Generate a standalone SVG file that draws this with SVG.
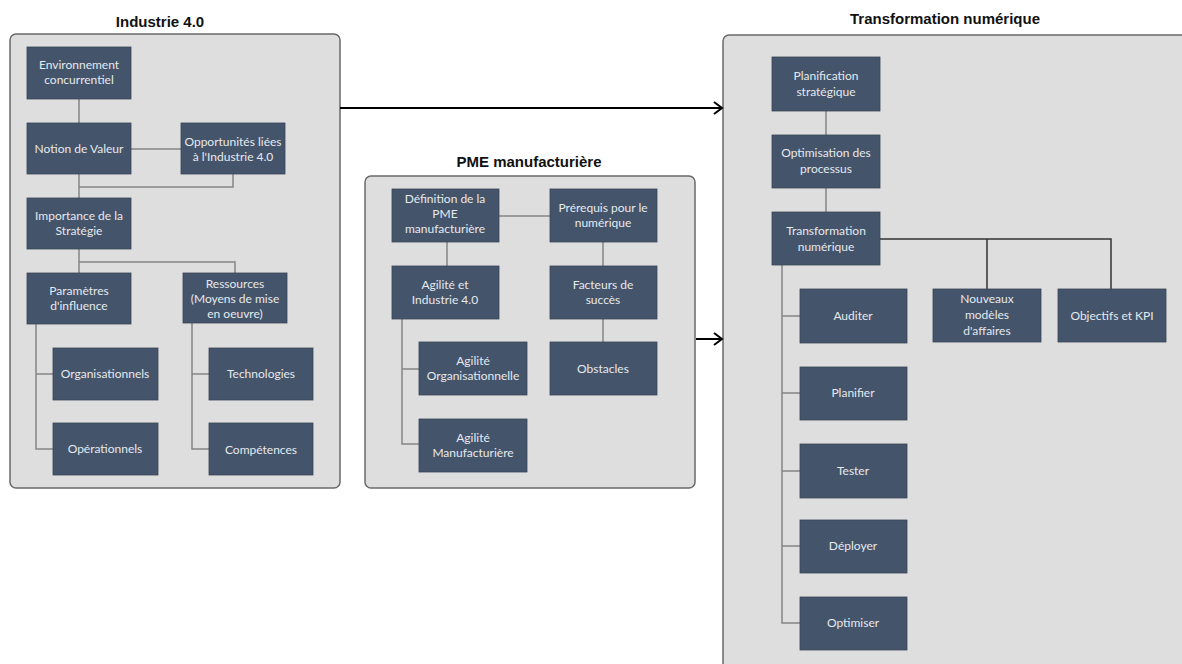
<svg xmlns="http://www.w3.org/2000/svg" width="1182" height="664" viewBox="0 0 1182 664">
<defs>
<style>
.cont{fill:#dedede;stroke:#6a6a6a;stroke-width:1.5}
.title{font-family:"Liberation Sans",Arial,sans-serif;font-weight:bold;font-size:15px;fill:#111;text-anchor:middle}
.n rect{fill:#44546a;stroke:#3a4658;stroke-width:0.8}
.n text{font-family:Lato,"Open Sans",sans-serif;font-size:12px;fill:#e6e9ee;text-anchor:middle}
.c{fill:none;stroke:#858585;stroke-width:1.5}
.cd{fill:none;stroke:#333;stroke-width:1.5}
.arr{fill:none;stroke:#000;stroke-width:2}
</style>
<marker id="ah" markerWidth="12" markerHeight="14" refX="10" refY="7" orient="auto" markerUnits="userSpaceOnUse">
<path d="M2,1 L10,7 L2,13" fill="none" stroke="#000" stroke-width="2"/>
</marker>
</defs>
<rect width="1182" height="664" fill="#fff"/>

<g id="containers">
<rect class="cont" x="10" y="34" width="330" height="454" rx="6"/>
<text class="title" x="160" y="27">Industrie 4.0</text>
<rect class="cont" x="365" y="176" width="330" height="312" rx="6"/>
<text class="title" x="529" y="167">PME manufacturière</text>
<rect class="cont" x="723" y="35" width="480" height="660" rx="6"/>
<text class="title" x="945" y="24">Transformation numérique</text>
</g>

<g id="connectors">
<path class="c" d="M79,99 V123"/>
<path class="c" d="M131,149 H181"/>
<path class="c" d="M79,174 V198 M79,187 H233 V174"/>
<path class="c" d="M79,249 V273 M79,262 H235 V273"/>
<path class="c" d="M36,324 V449 H53 M36,374 H53"/>
<path class="c" d="M192,323 V449 H209 M192,374 H209"/>
<path class="c" d="M499,216 H550"/>
<path class="c" d="M447,242 V266"/>
<path class="c" d="M603,242 V266 M603,319 V342"/>
<path class="c" d="M402,319 V444 H419 M402,369 H419"/>
<path class="c" d="M826,111 V135 M826,188 V212"/>
<path class="cd" d="M880,239 H1111 V289 M987,239 V289"/>
<path class="c" d="M782,265 V623 H800 M782,316 H800 M782,393 H800 M782,471 H800 M782,546 H800"/>
<path class="arr" d="M340,108 H722" marker-end="url(#ah)"/>
<path class="arr" d="M696,339 H722" marker-end="url(#ah)"/>
</g>

<g id="n-env" class="n"><rect x="27" y="47" width="104" height="52"/><text x="79" y="69">Environnement</text><text x="79" y="84">concurrentiel</text></g>
<g id="n-valeur" class="n"><rect x="27" y="123" width="104" height="51"/><text x="79" y="153">Notion de Valeur</text></g>
<g id="n-opport" class="n"><rect x="181" y="123" width="104" height="51"/><text x="233" y="146">Opportunités liées</text><text x="233" y="161">à l'Industrie 4.0</text></g>
<g id="n-strat" class="n"><rect x="27" y="198" width="104" height="51"/><text x="79" y="220">Importance de la</text><text x="79" y="235">Stratégie</text></g>
<g id="n-param" class="n"><rect x="27" y="273" width="104" height="51"/><text x="79" y="295">Paramètres</text><text x="79" y="310">d'influence</text></g>
<g id="n-ress" class="n"><rect x="183" y="273" width="104" height="50"/><text x="235" y="288">Ressources</text><text x="235" y="303">(Moyens de mise</text><text x="235" y="318">en oeuvre)</text></g>
<g id="n-orga" class="n"><rect x="53" y="348" width="105" height="52"/><text x="105" y="378">Organisationnels</text></g>
<g id="n-oper" class="n"><rect x="53" y="423" width="105" height="52"/><text x="105" y="453">Opérationnels</text></g>
<g id="n-tech" class="n"><rect x="209" y="348" width="104" height="52"/><text x="261" y="378">Technologies</text></g>
<g id="n-comp" class="n"><rect x="209" y="423" width="104" height="52"/><text x="261" y="454">Compétences</text></g>

<g id="n-def" class="n"><rect x="392" y="189" width="107" height="53"/><text x="445" y="203">Définition de la</text><text x="445" y="218">PME</text><text x="445" y="233">manufacturière</text></g>
<g id="n-prer" class="n"><rect x="550" y="189" width="107" height="53"/><text x="603" y="212">Prérequis pour le</text><text x="603" y="227">numérique</text></g>
<g id="n-agil" class="n"><rect x="392" y="266" width="107" height="53"/><text x="445" y="289">Agilité et</text><text x="445" y="304">Industrie 4.0</text></g>
<g id="n-fact" class="n"><rect x="550" y="266" width="107" height="53"/><text x="603" y="289">Facteurs de</text><text x="603" y="304">succès</text></g>
<g id="n-agorg" class="n"><rect x="419" y="342" width="108" height="53"/><text x="473" y="365">Agilité</text><text x="473" y="380">Organisationnelle</text></g>
<g id="n-obst" class="n"><rect x="550" y="342" width="107" height="53"/><text x="603" y="373">Obstacles</text></g>
<g id="n-agman" class="n"><rect x="419" y="419" width="108" height="53"/><text x="473" y="442">Agilité</text><text x="473" y="457">Manufacturière</text></g>

<g id="n-plan" class="n"><rect x="772" y="57" width="108" height="54"/><text x="826" y="80">Planification</text><text x="826" y="96">stratégique</text></g>
<g id="n-optp" class="n"><rect x="772" y="135" width="108" height="53"/><text x="826" y="157">Optimisation des</text><text x="826" y="173">processus</text></g>
<g id="n-trans" class="n"><rect x="772" y="212" width="108" height="53"/><text x="826" y="235">Transformation</text><text x="826" y="251">numérique</text></g>
<g id="n-nouv" class="n"><rect x="933" y="289" width="108" height="53"/><text x="987" y="303">Nouveaux</text><text x="987" y="319">modèles</text><text x="987" y="335">d'affaires</text></g>
<g id="n-obj" class="n"><rect x="1058" y="289" width="108" height="53"/><text x="1112" y="320">Objectifs et KPI</text></g>
<g id="n-aud" class="n"><rect x="800" y="289" width="107" height="54"/><text x="853" y="320">Auditer</text></g>
<g id="n-planif" class="n"><rect x="800" y="367" width="107" height="53"/><text x="853" y="397">Planifier</text></g>
<g id="n-test" class="n"><rect x="800" y="444" width="107" height="54"/><text x="853" y="475">Tester</text></g>
<g id="n-depl" class="n"><rect x="800" y="520" width="107" height="53"/><text x="853" y="550">Déployer</text></g>
<g id="n-optim" class="n"><rect x="800" y="597" width="107" height="53"/><text x="853" y="627">Optimiser</text></g>
</svg>
